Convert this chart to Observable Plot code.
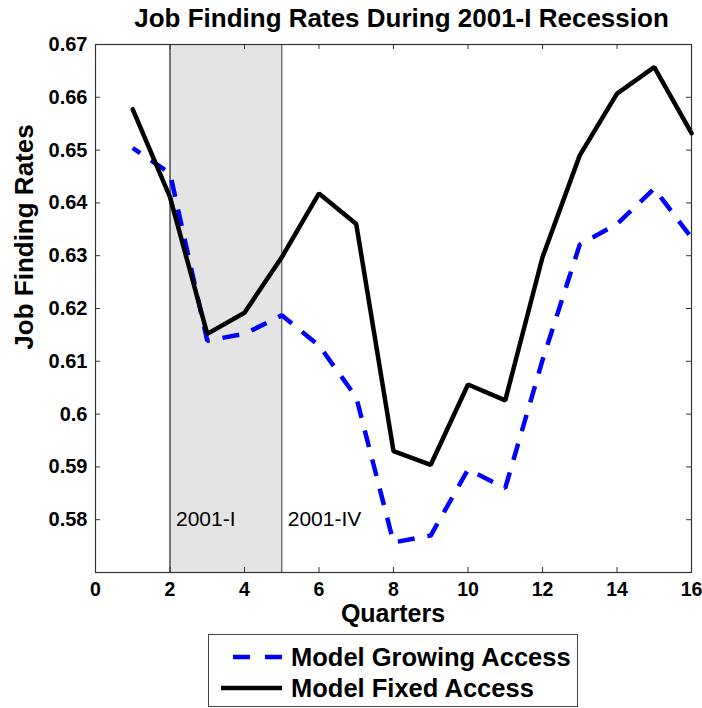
<!DOCTYPE html>
<html>
<head>
<meta charset="utf-8">
<script src="https://cdn.jsdelivr.net/npm/d3@7"></script>
<script src="https://cdn.jsdelivr.net/npm/@observablehq/plot@0.6"></script>
<style>
  body { margin: 0; background: #fff; }
  #wrap { position: relative; width: 702px; height: 708px; font-family: "Liberation Sans", Arial, sans-serif; color: #000; overflow: hidden; }
  #wrap > svg.plot { position: absolute; left: 0; top: 0; }
  .lbl { position: absolute; font-weight: bold; white-space: nowrap; text-align: center; }
  #title { left: 0; width: 803px; top: 5px; font-size: 26px; line-height: 26px; }
  #xlabel { left: 243px; width: 300px; top: 604px; height: 18px; font-size: 25px; line-height: 18px; }
  #ylabel { left: -126px; width: 300px; top: 224px; height: 26px; font-size: 26px; line-height: 26px; transform: rotate(-90deg); transform-origin: 50% 50%; }
  #legend { position: absolute; left: 208px; top: 634px; }
</style>
</head>
<body>
<div id="wrap">
  <div class="lbl" id="title">Job Finding Rates During 2001-I Recession</div>
  <div class="lbl" id="xlabel">Quarters</div>
  <div class="lbl" id="ylabel">Job Finding Rates</div>
</div>
<script>
// ---- data ----
const quarters = [1, 2, 3, 4, 5, 6, 7, 8, 9, 10, 11, 12, 13, 14, 15, 16];
const growingAccess = [0.6504, 0.6456, 0.6139, 0.6152, 0.6187, 0.6130, 0.6032, 0.5757, 0.5770, 0.5895, 0.5860, 0.6102, 0.6321, 0.6360, 0.6427, 0.6334];
const fixedAccess = [0.6577, 0.6411, 0.6152, 0.6192, 0.6297, 0.6418, 0.6360, 0.5930, 0.5904, 0.6056, 0.6026, 0.6297, 0.6490, 0.6607, 0.6657, 0.6532];
const seriesNames = ["Model Growing Access", "Model Fixed Access"];
const recessionStart = 2;
const recessionEnd = 5;
const recessionLabels = ["2001-I", "2001-IV"];
const recessionLabelLevel = 0.58;
const xTicks = [0, 2, 4, 6, 8, 10, 12, 14, 16];
const yTicks = [0.58, 0.59, 0.60, 0.61, 0.62, 0.63, 0.64, 0.65, 0.66, 0.67];
const xDomain = [0, 16];
const yDomain = [0.57, 0.67];

// ---- layout ----
const W = 702, H = 708;
const mL = 95, mR = 11, mT = 44, mB = 136;
const innerW = W - mL - mR, innerH = H - mT - mB;
const tickLen = 5;

const growing = quarters.map((q, i) => ({q, v: growingAccess[i]}));
const fixed = quarters.map((q, i) => ({q, v: fixedAccess[i]}));
const recession = [{x1: recessionStart, x2: recessionEnd}];
const recLabels = [recessionStart, recessionEnd].map((x, i) => ({x, y: recessionLabelLevel, t: recessionLabels[i]}));
const fmt = d => String(+d.toFixed(2));

const chart = Plot.plot({
  width: W, height: H,
  marginLeft: mL, marginRight: mR, marginTop: mT, marginBottom: mB,
  style: {fontFamily: '"Liberation Sans", Arial, sans-serif', color: "#000", background: "transparent"},
  x: {domain: xDomain},
  y: {domain: yDomain},
  marks: [
    Plot.rect(recession, {x1: "x1", x2: "x2", fill: "#e4e4e4"}),
    Plot.ruleX([recessionStart], {stroke: "#000", strokeWidth: 1}),
    Plot.ruleX([recessionEnd], {stroke: "#555", strokeWidth: 1.2}),
    Plot.text(recLabels, {x: "x", y: "y", text: "t", textAnchor: "start", dx: 6, fontSize: 21, fill: "#000"}),
    // inward ticks
    Plot.tickY(yTicks, {y: d => d, insetRight: innerW - tickLen, stroke: "#333"}),
    Plot.tickY(yTicks, {y: d => d, insetLeft: innerW - tickLen, stroke: "#333"}),
    Plot.tickX(xTicks, {x: d => d, insetTop: innerH - tickLen, stroke: "#333"}),
    Plot.tickX(xTicks, {x: d => d, insetBottom: innerH - tickLen, stroke: "#333"}),
    Plot.frame({stroke: "#333", strokeWidth: 1.2}),
    Plot.axisY({ticks: yTicks, tickFormat: fmt, tickSize: 0, tickPadding: 8, fontSize: 20, fontWeight: "bold", label: null}),
    Plot.axisX({ticks: xTicks, tickSize: 0, tickPadding: 10, fontSize: 19.5, fontWeight: "bold", label: null}),
    Plot.line(growing, {x: "q", y: "v", stroke: "#0000ff", strokeWidth: 4.5, strokeDasharray: "17,13", strokeDashoffset: 8, strokeLinejoin: "miter", strokeLinecap: "butt"}),
    Plot.line(fixed, {x: "q", y: "v", stroke: "#000", strokeWidth: 4.5, strokeLinejoin: "miter"})
  ]
});
chart.classList.add("plot");
const wrap = document.getElementById("wrap");
wrap.insertBefore(chart, wrap.firstChild);

// ---- legend ----
const ns = "http://www.w3.org/2000/svg";
const lg = document.createElementNS(ns, "svg");
lg.setAttribute("id", "legend");
lg.setAttribute("width", 371);
lg.setAttribute("height", 74);
const rows = [
  {name: seriesNames[0], stroke: "#0000ff", dash: "17,15", y: 23},
  {name: seriesNames[1], stroke: "#000", dash: null, y: 54}
];
const box = document.createElementNS(ns, "rect");
box.setAttribute("x", 0.5); box.setAttribute("y", 0.5);
box.setAttribute("width", 369); box.setAttribute("height", 72);
box.setAttribute("fill", "#fff"); box.setAttribute("stroke", "#444"); box.setAttribute("stroke-width", 1);
lg.appendChild(box);
rows.forEach((r, i) => {
  const ln = document.createElementNS(ns, "line");
  ln.setAttribute("x1", i === 0 ? 25 : 13); ln.setAttribute("x2", 74);
  ln.setAttribute("y1", r.y); ln.setAttribute("y2", r.y);
  ln.setAttribute("stroke", r.stroke); ln.setAttribute("stroke-width", 4.5);
  if (r.dash) ln.setAttribute("stroke-dasharray", r.dash);
  lg.appendChild(ln);
  const tx = document.createElementNS(ns, "text");
  tx.setAttribute("x", 83); tx.setAttribute("y", r.y + 9);
  tx.setAttribute("font-size", 25.5); tx.setAttribute("font-weight", "bold");
  tx.setAttribute("font-family", '"Liberation Sans", Arial, sans-serif');
  tx.textContent = r.name;
  lg.appendChild(tx);
});
wrap.appendChild(lg);
</script>
</body>
</html>
